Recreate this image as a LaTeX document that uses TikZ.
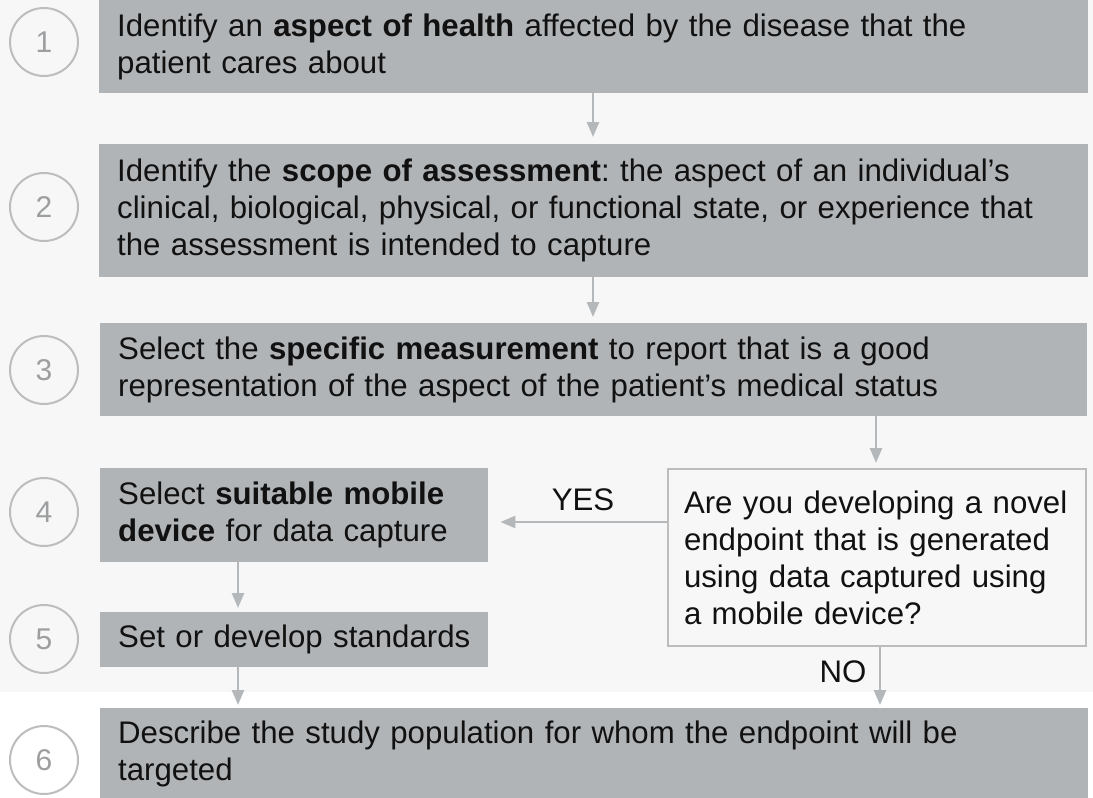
\documentclass[tikz,border=0pt]{standalone}
\usepackage{fontspec}
\setmainfont{Liberation Sans}
\usetikzlibrary{arrows.meta}
\frenchspacing
\hyphenpenalty=10000
\exhyphenpenalty=10000
\definecolor{bgc}{HTML}{F7F7F7}
\definecolor{boxc}{HTML}{B1B4B7}
\definecolor{linec}{HTML}{B5B8BB}
\definecolor{circc}{HTML}{BBBDBF}
\definecolor{numc}{HTML}{9C9EA0}
\definecolor{txtc}{HTML}{111111}
\tikzset{
  base/.style={font=\fontsize{31.2}{37}\selectfont\frenchspacing, text=txtc},
  stepbox/.style={base, fill=boxc, draw=none, anchor=north west, inner xsep=18pt, inner ysep=0pt, align=left},
  qbox/.style={base, fill=bgc, draw=circc, line width=2pt, anchor=north west, inner xsep=16pt, inner ysep=0pt, align=left},
  numcirc/.style={circle, draw=circc, line width=2pt, minimum size=68pt, inner sep=0pt, text=numc, font=\fontsize{30}{34}\selectfont},
  arr/.style={draw=linec, line width=2.5pt, -{Triangle[length=15pt,width=12pt]}},
  lbl/.style={base}
}
\begin{document}
\begin{tikzpicture}[x=1pt,y=-1pt]
\useasboundingbox (0,0) rectangle (1093,798);
\fill[white] (0,0) rectangle (1093,798);
\fill[bgc] (0,0) rectangle (1093,692);

\node[stepbox, minimum width=989pt, minimum height=93pt, text width=953pt] (b1) at (99,0)
  {Identify an \textbf{aspect of health} affected by the disease that the\\patient cares about};
\node[stepbox, minimum width=989pt, minimum height=133pt, text width=953pt] (b2) at (99,144)
  {Identify the \textbf{scope of assessment}: the aspect of an individual’s\\clinical, biological, physical, or functional state, or experience that\\the assessment is intended to capture};
\node[stepbox, minimum width=987pt, minimum height=93pt, text width=951pt] (b3) at (100,323)
  {Select the \textbf{specific measurement} to report that is a good\\representation of the aspect of the patient’s medical status};
\node[stepbox, minimum width=388pt, minimum height=94pt, text width=352pt] (b4) at (100,468)
  {\mbox{Select \textbf{suitable mobile}}\\\mbox{\textbf{device} for data capture}};
\node[stepbox, minimum width=388pt, minimum height=55pt, text width=352pt] (b5) at (100,612)
  {\mbox{Set or develop standards}};
\node[stepbox, minimum width=988pt, minimum height=92pt, text width=952pt] (b6) at (100,708)
  {Describe the study population for whom the endpoint will be\\targeted};
\node[qbox, minimum width=418pt, minimum height=177pt, text width=386pt] (q) at (667,468)
  {Are you developing a novel\\endpoint that is generated\\using data captured using\\a mobile device?};

\node[numcirc] (c1) at (44,42) {1};
\node[numcirc] (c2) at (44,207) {2};
\node[numcirc] (c3) at (44,370) {3};
\node[numcirc] (c4) at (44,512) {4};
\node[numcirc] (c5) at (44,639) {5};
\node[numcirc] (c6) at (44,760) {6};

\coordinate (xa) at (593,0);
\coordinate (xb) at (876,0);
\coordinate (xc) at (238,0);
\coordinate (xd) at (880,0);
\coordinate (ya) at (0,522);

\draw[arr, shorten >=7pt] (b1.south -| xa) -- (b2.north -| xa);
\draw[arr, shorten >=6pt] (b2.south -| xa) -- (b3.north -| xa);
\draw[arr, shorten >=5pt] (b3.south -| xb) -- (q.north -| xb);
\draw[arr, shorten >=12pt] (q.west |- ya) -- (b4.east |- ya);
\draw[arr, shorten >=4pt] (b4.south -| xc) -- (b5.north -| xc);
\draw[arr, shorten >=3pt] (b5.south -| xc) -- (b6.north -| xc);
\draw[arr, shorten >=3pt] (q.south -| xd) -- (b6.north -| xd);

\node[lbl] (yes) at (583,500) {YES};
\node[lbl] (no) at (843,672) {NO};
\end{tikzpicture}
\end{document}
